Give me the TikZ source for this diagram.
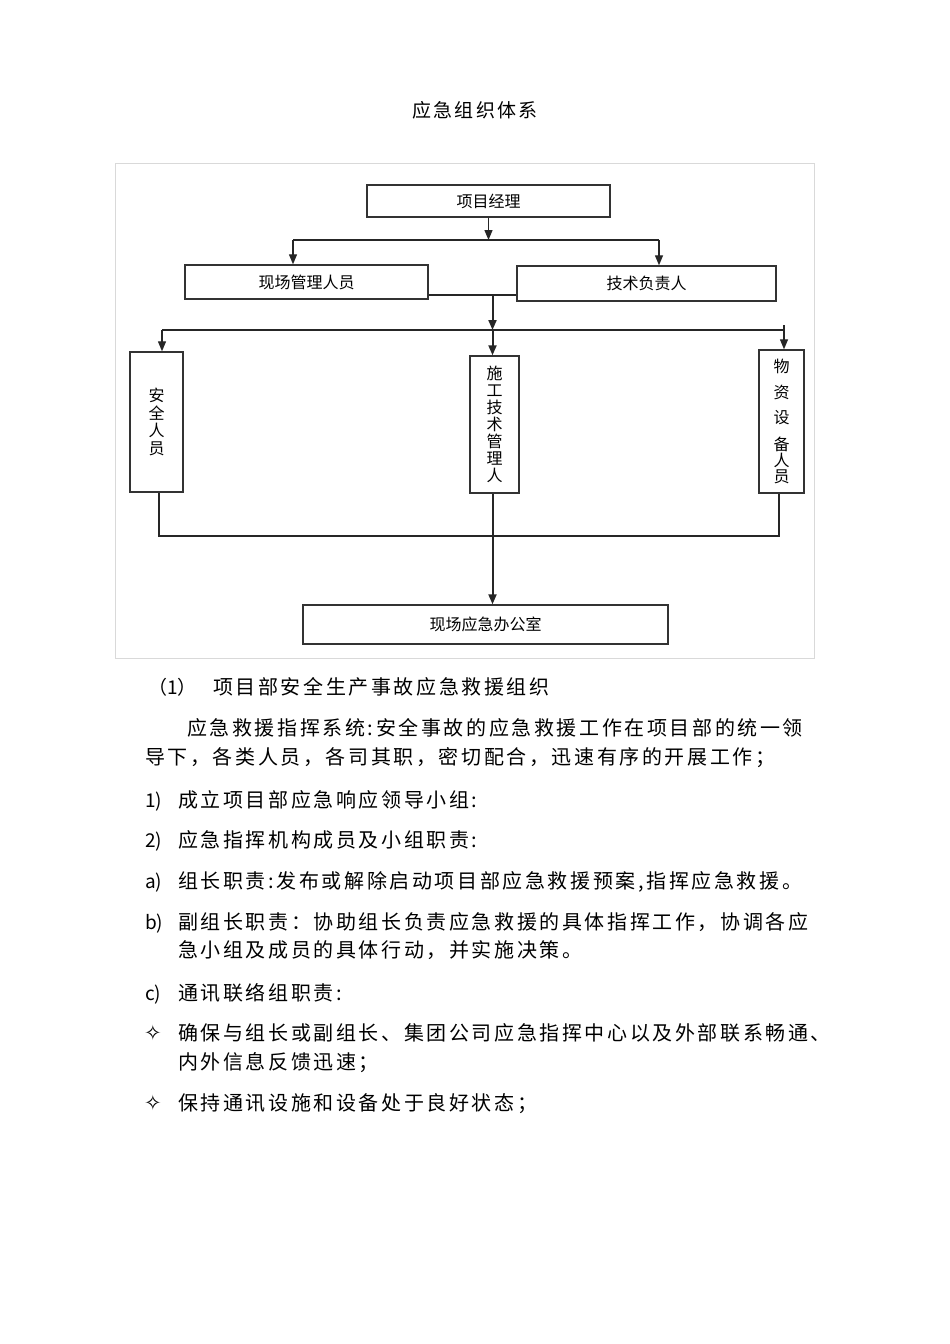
\documentclass[tikz,border=0pt]{standalone}
\usepackage{fontspec}
\setmainfont{Noto Sans CJK SC}
\newfontfamily\cjk{Noto Sans CJK SC}
\newfontfamily\cjkls[LetterSpace=13]{Noto Sans CJK SC}
\newfontfamily\cjkt[LetterSpace=12]{Noto Sans CJK SC}
\newfontfamily\dejavu{DejaVu Sans}
\usetikzlibrary{arrows.meta}
\tikzset{
  box/.style={draw=black!80, line width=1.4pt, inner sep=0pt, align=center, font=\fontsize{16}{18}\cjk},
  ln/.style={draw=black!85, line width=1.3pt},
  trunk/.style={draw=black!85, line width=2pt},
  arr/.style={ln, -{Triangle[length=10pt,width=8pt]}},
  tarr/.style={trunk, -{Triangle[length=10pt,width=8pt]}},
  bt/.style={anchor=base west, inner sep=0pt, font=\fontsize{20}{22}\cjkls},
  lbl/.style={anchor=base west, inner sep=0pt, font=\fontsize{19}{22}\cjk},
}
\begin{document}
\begin{tikzpicture}[x=1pt,y=-1pt]
\fill[white] (0,0) rectangle (950,1344);
\useasboundingbox (0,0) rectangle (950,1344);
% title
\node[inner sep=0pt, font=\fontsize{19}{22}\cjkt] (title) at (475,110) {应急组织体系};
% frame
\draw[black!15, line width=1pt] (115,163) rectangle (814,658);
% boxes
\node[box, minimum width=243pt, minimum height=32pt] (pm) at (488.5,201) {项目经理};
\node[box, minimum width=243pt, minimum height=34pt] (xc) at (306.5,282) {现场管理人员};
\node[box, minimum width=259pt, minimum height=35pt] (js) at (646.5,283.5) {技术负责人};
\node[box, minimum width=53pt, minimum height=140pt, font=\fontsize{16}{17.7}\cjk] (aq) at (156.5,422) {安\\全\\人\\员};
\node[box, minimum width=49pt, minimum height=137pt, font=\fontsize{16}{17}\cjk] (sg) at (494.5,424.5) {施\\工\\技\\术\\管\\理\\人};
\node[box, minimum width=45pt, minimum height=143pt, font=\fontsize{16}{16.3}\cjk] (wz) at (781.5,421.5) {物\\[10pt]资\\[9pt]设\\[10pt]备\\人\\员};
\node[box, minimum width=365pt, minimum height=39pt] (bg) at (485.5,624.5) {现场应急办公室};
% connectors level 1
\coordinate (j1) at (488.5,240);
\coordinate (l1) at (293,240);
\coordinate (r1) at (659,240);
\draw[arr] (pm.south) -- (j1);
\draw[ln] (l1) -- (r1);
\draw[arr] (l1) -- (l1 |- xc.north);
\draw[arr] (r1) -- (r1 |- js.north);
% connectors level 2
\coordinate (t0) at (492.5,295);
\coordinate (t1) at (492.5,330);
\coordinate (hL) at (162,330);
\coordinate (hR) at (784,330);
\draw[ln] (xc.east |- t0) -- (js.west |- t0);
\draw[tarr] (t0) -- (t1);
\draw[ln] (hL) -- (hR);
\draw[ln] (hR) -- ++(0,-5);
\draw[arr] (hL) -- (hL |- aq.north);
\draw[tarr] (t1) -- (t1 |- sg.north);
\draw[arr] (hR) -- (hR |- wz.north);
% connectors level 3
\coordinate (bL) at (159,536);
\coordinate (bR) at (779,536);
\coordinate (bM) at (492.5,536);
\draw[ln] (aq.south -| bL) -- (bL) -- (bR) -- (wz.south -| bR);
\draw[tarr] (sg.south -| bM) -- (bM |- bg.north);
% body text (baselines)
\node[lbl] (n1) at (148,694.5) {（1）};
\node[bt] (n1t) at (213,694.5) {项目部安全生产事故应急救援组织};
\node[bt] (p1) at (187,735.5) {应急救援指挥系统:安全事故的应急救援工作在项目部的统一领};
\node[bt] (p2) at (145,764.5) {导下，各类人员，各司其职，密切配合，迅速有序的开展工作；};
\node[lbl] (i1) at (145,807.5) {1)};
\node[bt] (i1t) at (178,807.5) {成立项目部应急响应领导小组:};
\node[lbl] (i2) at (145,847.5) {2)};
\node[bt] (i2t) at (178,847.5) {应急指挥机构成员及小组职责:};
\node[lbl] (ia) at (145,888.5) {a)};
\node[bt] (iat) at (178,888.5) {组长职责:发布或解除启动项目部应急救援预案,指挥应急救援。};
\node[lbl] (ib) at (145,929.5) {b)};
\node[bt] (ibt) at (178,929.5) {副组长职责：协助组长负责应急救援的具体指挥工作，协调各应};
\node[bt] (ibt2) at (178,957.5) {急小组及成员的具体行动，并实施决策。};
\node[lbl] (ic) at (145,1000.5) {c)};
\node[bt] (ict) at (178,1000.5) {通讯联络组职责:};
\node[lbl, font=\fontsize{21}{22}\dejavu] (d1) at (144,1040.5) {✧};
\node[bt] (d1t) at (178,1040.5) {确保与组长或副组长、集团公司应急指挥中心以及外部联系畅通、};
\node[bt] (d1t2) at (178,1069.5) {内外信息反馈迅速；};
\node[lbl, font=\fontsize{21}{22}\dejavu] (d2) at (144,1110.5) {✧};
\node[bt] (d2t) at (178,1110.5) {保持通讯设施和设备处于良好状态；};
\end{tikzpicture}
\end{document}
